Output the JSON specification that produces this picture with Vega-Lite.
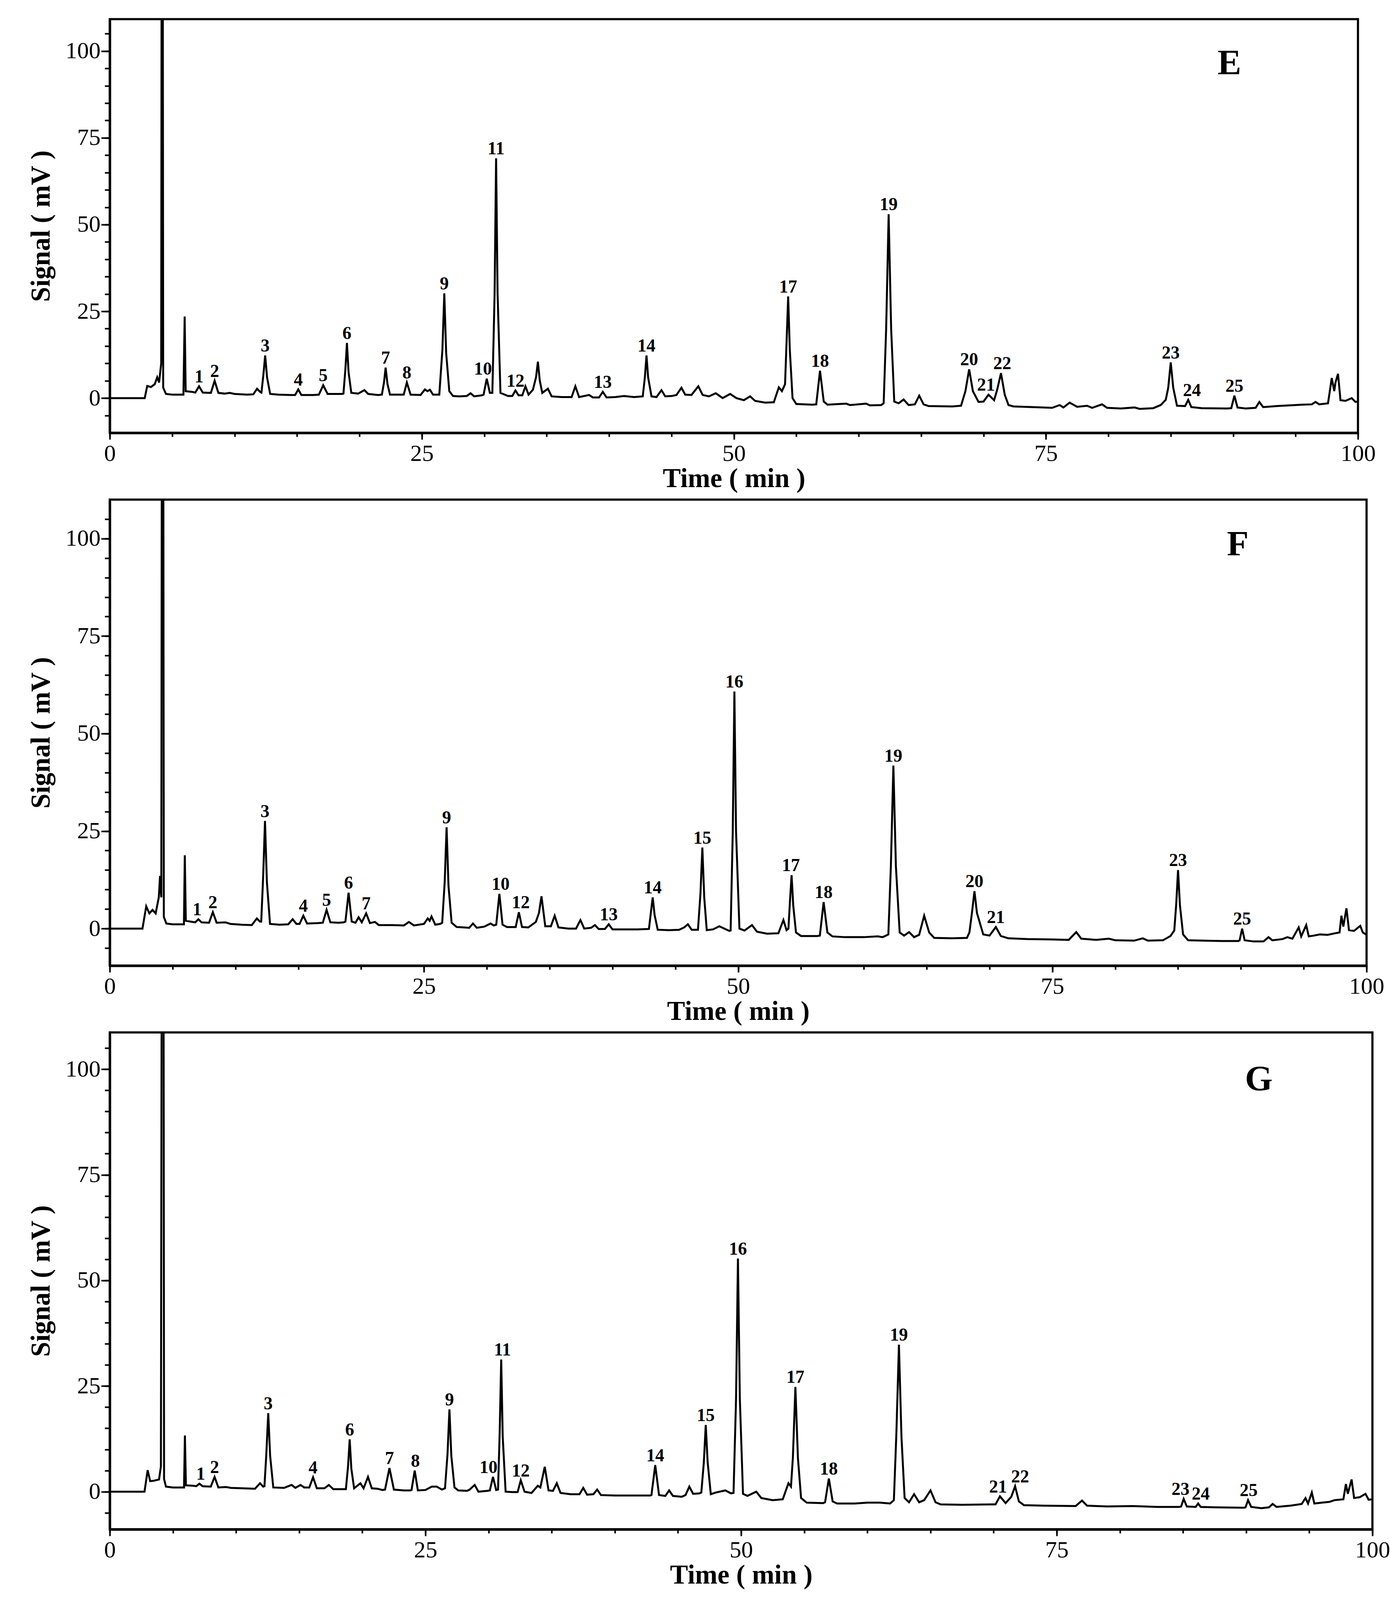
{
  "$schema": "https://vega.github.io/schema/vega-lite/v6.json",
  "padding": {"left": 68, "top": 46, "right": 16, "bottom": 16},
  "background": "white",
  "bounds": "flush",
  "spacing": 171,
  "config": {
    "view": {"stroke": "black", "strokeWidth": 5.5},
    "axis": {
      "grid": false,
      "labelFont": "Liberation Serif",
      "labelFontSize": 60,
      "labelColor": "black",
      "labelFlush": false,
      "labelOverlap": false,
      "titleFont": "Liberation Serif",
      "titleFontSize": 69,
      "titleFontWeight": "bold",
      "titleColor": "black",
      "tickColor": "black",
      "tickWidth": 4,
      "domainColor": "black"
    }
  },
  "datasets": {
    "E": [
      {"t":0,"s":0},{"t":2.8,"s":0},{"t":3.0,"s":3.5},{"t":3.3,"s":3.2},{"t":3.6,"s":4.0},{"t":3.8,"s":6.0},{"t":3.95,"s":4.5},{"t":4.12,"s":10},{"t":4.2,"s":300},{"t":4.28,"s":3},{"t":4.5,"s":1.2},{"t":5.0,"s":1.0},{"t":5.9,"s":1.0},{"t":6.0,"s":23.5},{"t":6.08,"s":2.0},{"t":6.6,"s":1.8},{"t":6.85,"s":1.6},{"t":7.15,"s":3.4},{"t":7.45,"s":1.6},{"t":8.1,"s":1.5},{"t":8.4,"s":5.0},{"t":8.7,"s":1.5},{"t":9.2,"s":1.3},{"t":9.6,"s":1.5},{"t":10.0,"s":1.2},{"t":11.0,"s":1.0},{"t":11.5,"s":1.1},{"t":11.8,"s":2.7},{"t":12.05,"s":1.8},{"t":12.15,"s":1.6},{"t":12.3,"s":6.5},{"t":12.45,"s":12.3},{"t":12.6,"s":6.0},{"t":12.85,"s":1.2},{"t":13.5,"s":1.0},{"t":14.5,"s":0.9},{"t":14.85,"s":0.9},{"t":15.1,"s":2.5},{"t":15.35,"s":0.9},{"t":16.3,"s":0.9},{"t":16.75,"s":1.0},{"t":17.1,"s":3.7},{"t":17.45,"s":1.2},{"t":18.6,"s":1.2},{"t":18.72,"s":1.3},{"t":18.87,"s":8.0},{"t":19.0,"s":15.9},{"t":19.13,"s":7.5},{"t":19.35,"s":1.5},{"t":19.9,"s":1.3},{"t":20.4,"s":2.3},{"t":20.7,"s":1.2},{"t":21.5,"s":0.9},{"t":21.8,"s":1.0},{"t":21.97,"s":4.5},{"t":22.1,"s":8.8},{"t":22.25,"s":4.0},{"t":22.45,"s":1.0},{"t":23.4,"s":1.0},{"t":23.55,"s":1.0},{"t":23.8,"s":4.5},{"t":24.1,"s":1.0},{"t":24.9,"s":0.9},{"t":25.25,"s":2.5},{"t":25.45,"s":2.0},{"t":25.65,"s":2.4},{"t":25.9,"s":1.0},{"t":26.4,"s":1.0},{"t":26.65,"s":14},{"t":26.8,"s":30.2},{"t":26.95,"s":13},{"t":27.2,"s":2.0},{"t":27.5,"s":0.6},{"t":28.0,"s":0.5},{"t":28.6,"s":0.6},{"t":28.9,"s":1.4},{"t":29.2,"s":0.5},{"t":29.8,"s":0.8},{"t":29.95,"s":1.0},{"t":30.2,"s":5.6},{"t":30.45,"s":1.5},{"t":30.65,"s":1.5},{"t":30.83,"s":30},{"t":30.95,"s":69.1},{"t":31.07,"s":30},{"t":31.3,"s":1.5},{"t":31.9,"s":0.6},{"t":32.25,"s":0.6},{"t":32.5,"s":2.2},{"t":32.75,"s":0.8},{"t":33.05,"s":0.8},{"t":33.3,"s":3.4},{"t":33.55,"s":1.0},{"t":33.9,"s":2.4},{"t":34.15,"s":6},{"t":34.3,"s":10.5},{"t":34.45,"s":5},{"t":34.65,"s":1.5},{"t":35.1,"s":2.7},{"t":35.4,"s":0.5},{"t":36.2,"s":0.3},{"t":37.0,"s":0.3},{"t":37.3,"s":3.4},{"t":37.6,"s":0.3},{"t":38.4,"s":0.9},{"t":38.7,"s":0.2},{"t":39.2,"s":0.2},{"t":39.5,"s":1.8},{"t":39.8,"s":0.2},{"t":40.5,"s":0.3},{"t":41.2,"s":0.6},{"t":42.0,"s":0.3},{"t":42.7,"s":0.5},{"t":42.87,"s":6},{"t":43.0,"s":12.3},{"t":43.13,"s":6},{"t":43.4,"s":0.5},{"t":43.8,"s":0.3},{"t":44.2,"s":2.3},{"t":44.5,"s":0.5},{"t":45.0,"s":0.6},{"t":45.4,"s":0.9},{"t":45.8,"s":3.0},{"t":46.1,"s":1.0},{"t":46.6,"s":0.9},{"t":47.15,"s":3.4},{"t":47.5,"s":0.9},{"t":48.0,"s":0.5},{"t":48.55,"s":1.4},{"t":49.1,"s":0.0},{"t":49.7,"s":1.2},{"t":50.2,"s":0.0},{"t":50.8,"s":-0.6},{"t":51.3,"s":0.5},{"t":51.7,"s":-0.8},{"t":52.5,"s":-1.3},{"t":53.2,"s":-1.2},{"t":53.6,"s":3.1},{"t":53.85,"s":2.0},{"t":54.1,"s":4.0},{"t":54.22,"s":16},{"t":54.35,"s":29.3},{"t":54.48,"s":14},{"t":54.7,"s":0.0},{"t":55.0,"s":-1.7},{"t":56.3,"s":-1.9},{"t":56.6,"s":-1.8},{"t":56.9,"s":7.9},{"t":57.2,"s":-1.0},{"t":57.5,"s":-1.9},{"t":59.0,"s":-1.6},{"t":59.3,"s":-2.0},{"t":60.6,"s":-1.6},{"t":60.9,"s":-2.1},{"t":61.8,"s":-2.0},{"t":62.0,"s":-1.5},{"t":62.2,"s":20},{"t":62.4,"s":53},{"t":62.6,"s":20},{"t":62.85,"s":-1.0},{"t":63.2,"s":-1.5},{"t":63.6,"s":-0.4},{"t":64.0,"s":-2.0},{"t":64.5,"s":-1.8},{"t":64.85,"s":0.7},{"t":65.2,"s":-1.8},{"t":65.6,"s":-2.3},{"t":67.5,"s":-2.4},{"t":68.2,"s":-2.2},{"t":68.55,"s":2.0},{"t":68.85,"s":8.3},{"t":69.15,"s":2.0},{"t":69.6,"s":-1.1},{"t":70.0,"s":-1.0},{"t":70.4,"s":1.0},{"t":70.85,"s":-0.6},{"t":71.1,"s":2.5},{"t":71.4,"s":7.2},{"t":71.7,"s":1.0},{"t":72.0,"s":-2.0},{"t":72.4,"s":-2.4},{"t":74.0,"s":-2.6},{"t":75.5,"s":-2.8},{"t":76.1,"s":-2.0},{"t":76.4,"s":-2.7},{"t":76.9,"s":-1.3},{"t":77.5,"s":-2.5},{"t":78.3,"s":-2.2},{"t":78.7,"s":-2.8},{"t":79.5,"s":-1.8},{"t":79.9,"s":-2.8},{"t":81.0,"s":-3.0},{"t":82.1,"s":-2.7},{"t":82.5,"s":-3.1},{"t":83.6,"s":-2.9},{"t":84.2,"s":-2.0},{"t":84.6,"s":-0.5},{"t":84.8,"s":3.0},{"t":85.0,"s":10.3},{"t":85.2,"s":3.0},{"t":85.5,"s":-2.2},{"t":86.15,"s":-2.3},{"t":86.4,"s":-0.5},{"t":86.65,"s":-2.6},{"t":87.5,"s":-2.9},{"t":89.5,"s":-3.0},{"t":89.85,"s":-2.9},{"t":90.1,"s":0.7},{"t":90.35,"s":-2.7},{"t":91.0,"s":-3.0},{"t":91.8,"s":-2.8},{"t":92.1,"s":-1.1},{"t":92.4,"s":-2.6},{"t":93.5,"s":-2.3},{"t":94.5,"s":-2.1},{"t":95.5,"s":-1.9},{"t":96.3,"s":-1.8},{"t":96.6,"s":-1.1},{"t":96.9,"s":-1.8},{"t":97.6,"s":-1.5},{"t":97.9,"s":5.8},{"t":98.1,"s":2.0},{"t":98.2,"s":4.5},{"t":98.4,"s":7.0},{"t":98.6,"s":-0.6},{"t":99.0,"s":-0.8},{"t":99.5,"s":0.0},{"t":99.8,"s":-1.1},{"t":100,"s":-1.0}
    ],
    "F": [
      {"t":0,"s":0},{"t":2.6,"s":0},{"t":2.9,"s":5.7},{"t":3.15,"s":3.9},{"t":3.4,"s":4.8},{"t":3.65,"s":3.9},{"t":3.9,"s":8},{"t":4.0,"s":13.5},{"t":4.1,"s":8},{"t":4.2,"s":300},{"t":4.3,"s":3},{"t":4.5,"s":1.3},{"t":5.0,"s":1.1},{"t":5.9,"s":1.1},{"t":5.97,"s":18.8},{"t":6.05,"s":2.0},{"t":6.6,"s":1.7},{"t":6.8,"s":1.6},{"t":7.05,"s":2.4},{"t":7.3,"s":1.6},{"t":7.9,"s":1.5},{"t":8.2,"s":4.2},{"t":8.5,"s":1.5},{"t":9.2,"s":1.6},{"t":9.6,"s":1.2},{"t":10.5,"s":1.0},{"t":11.3,"s":0.9},{"t":11.7,"s":2.6},{"t":11.95,"s":1.8},{"t":12.05,"s":1.8},{"t":12.2,"s":13},{"t":12.35,"s":27.6},{"t":12.5,"s":12},{"t":12.75,"s":1.2},{"t":13.5,"s":1.0},{"t":14.2,"s":1.1},{"t":14.55,"s":2.4},{"t":14.85,"s":1.2},{"t":15.1,"s":1.2},{"t":15.4,"s":3.3},{"t":15.7,"s":1.3},{"t":16.5,"s":1.4},{"t":16.95,"s":1.5},{"t":17.25,"s":4.8},{"t":17.55,"s":1.6},{"t":18.2,"s":1.5},{"t":18.6,"s":1.6},{"t":18.75,"s":1.8},{"t":19.0,"s":9.2},{"t":19.25,"s":1.8},{"t":19.55,"s":1.5},{"t":19.8,"s":2.9},{"t":20.05,"s":1.6},{"t":20.4,"s":3.9},{"t":20.7,"s":1.4},{"t":21.1,"s":1.7},{"t":21.4,"s":0.9},{"t":22.5,"s":0.9},{"t":23.4,"s":0.8},{"t":23.8,"s":1.7},{"t":24.2,"s":0.8},{"t":25.0,"s":1.2},{"t":25.3,"s":2.6},{"t":25.45,"s":2.0},{"t":25.6,"s":3.1},{"t":25.9,"s":1.0},{"t":26.3,"s":1.2},{"t":26.45,"s":1.5},{"t":26.65,"s":12},{"t":26.8,"s":26},{"t":26.95,"s":11},{"t":27.2,"s":1.5},{"t":27.6,"s":0.4},{"t":28.2,"s":0.3},{"t":28.6,"s":0.2},{"t":28.9,"s":1.3},{"t":29.2,"s":0.2},{"t":29.8,"s":0.5},{"t":30.3,"s":1.3},{"t":30.55,"s":0.8},{"t":30.75,"s":1.0},{"t":31.0,"s":8.9},{"t":31.25,"s":1.0},{"t":31.6,"s":0.4},{"t":32.3,"s":0.4},{"t":32.55,"s":4.2},{"t":32.8,"s":0.4},{"t":33.3,"s":0.3},{"t":33.9,"s":1.7},{"t":34.15,"s":4},{"t":34.35,"s":8.3},{"t":34.65,"s":0.6},{"t":35.1,"s":0.6},{"t":35.4,"s":3.3},{"t":35.7,"s":0.3},{"t":36.5,"s":0.0},{"t":37.1,"s":0.0},{"t":37.45,"s":2.2},{"t":37.75,"s":0.0},{"t":38.3,"s":0.2},{"t":38.6,"s":0.9},{"t":38.9,"s":-0.1},{"t":39.4,"s":-0.1},{"t":39.7,"s":1.1},{"t":40.0,"s":-0.2},{"t":41.0,"s":-0.2},{"t":42.0,"s":-0.2},{"t":42.9,"s":-0.1},{"t":43.05,"s":4},{"t":43.2,"s":8},{"t":43.35,"s":3.5},{"t":43.6,"s":-0.3},{"t":44.5,"s":-0.4},{"t":45.3,"s":-0.3},{"t":45.7,"s":0.3},{"t":46.0,"s":1.1},{"t":46.3,"s":-0.3},{"t":46.8,"s":-0.3},{"t":47.0,"s":9},{"t":47.15,"s":20.8},{"t":47.3,"s":8},{"t":47.5,"s":-0.4},{"t":48.0,"s":-0.2},{"t":48.5,"s":0.6},{"t":48.9,"s":0.0},{"t":49.3,"s":-0.6},{"t":49.4,"s":-0.5},{"t":49.57,"s":25},{"t":49.7,"s":60.8},{"t":49.83,"s":25},{"t":50.1,"s":0},{"t":50.5,"s":-0.5},{"t":51.1,"s":0.9},{"t":51.5,"s":-0.8},{"t":52.3,"s":-1.3},{"t":53.2,"s":-1.2},{"t":53.6,"s":2.2},{"t":53.85,"s":-0.4},{"t":54.0,"s":0},{"t":54.12,"s":7},{"t":54.25,"s":13.7},{"t":54.38,"s":6},{"t":54.6,"s":-1.0},{"t":55.0,"s":-1.9},{"t":56.3,"s":-1.9},{"t":56.5,"s":-1.8},{"t":56.8,"s":6.8},{"t":57.1,"s":-1.0},{"t":57.5,"s":-2.0},{"t":58.5,"s":-2.2},{"t":60.0,"s":-2.2},{"t":61.1,"s":-2.0},{"t":61.5,"s":-2.2},{"t":61.95,"s":-1.5},{"t":62.15,"s":16},{"t":62.35,"s":41.8},{"t":62.55,"s":16},{"t":62.85,"s":-1.0},{"t":63.2,"s":-1.8},{"t":63.6,"s":-0.9},{"t":64.0,"s":-2.2},{"t":64.4,"s":-1.6},{"t":64.8,"s":3.3},{"t":65.2,"s":-1.0},{"t":65.6,"s":-2.4},{"t":67.0,"s":-2.5},{"t":68.2,"s":-2.4},{"t":68.4,"s":-1.0},{"t":68.6,"s":4},{"t":68.8,"s":9.6},{"t":69.0,"s":4},{"t":69.5,"s":-1.5},{"t":70.0,"s":-1.8},{"t":70.5,"s":0.4},{"t":70.9,"s":-1.9},{"t":71.5,"s":-2.5},{"t":73.0,"s":-2.7},{"t":75.0,"s":-2.8},{"t":76.3,"s":-2.9},{"t":76.9,"s":-0.9},{"t":77.3,"s":-2.6},{"t":78.5,"s":-2.9},{"t":79.5,"s":-2.6},{"t":80.0,"s":-3.0},{"t":81.5,"s":-3.1},{"t":82.2,"s":-2.5},{"t":82.6,"s":-3.1},{"t":83.8,"s":-3.0},{"t":84.4,"s":-1.9},{"t":84.7,"s":-0.5},{"t":84.85,"s":6},{"t":85.0,"s":15},{"t":85.15,"s":6},{"t":85.4,"s":-1.5},{"t":85.8,"s":-3.0},{"t":87.0,"s":-3.1},{"t":88.5,"s":-3.2},{"t":89.8,"s":-3.2},{"t":89.9,"s":-3.0},{"t":90.1,"s":0.0},{"t":90.3,"s":-3.0},{"t":91.0,"s":-3.3},{"t":91.8,"s":-3.3},{"t":92.2,"s":-2.2},{"t":92.5,"s":-3.0},{"t":93.3,"s":-2.7},{"t":93.7,"s":-2.2},{"t":94.1,"s":-2.6},{"t":94.6,"s":0.3},{"t":94.8,"s":-2.0},{"t":95.2,"s":0.9},{"t":95.4,"s":-2.0},{"t":95.8,"s":-1.8},{"t":96.3,"s":-1.5},{"t":96.9,"s":-1.6},{"t":97.5,"s":-1.2},{"t":97.85,"s":-1.0},{"t":98.0,"s":3.3},{"t":98.15,"s":0.5},{"t":98.4,"s":5.2},{"t":98.6,"s":-0.4},{"t":99.0,"s":-0.6},{"t":99.5,"s":0.7},{"t":99.7,"s":-1.0},{"t":100,"s":-1.6}
    ],
    "G": [
      {"t":0,"s":0},{"t":2.75,"s":0},{"t":3.0,"s":5.1},{"t":3.2,"s":2.5},{"t":3.5,"s":2.6},{"t":3.9,"s":2.9},{"t":4.05,"s":6},{"t":4.2,"s":300},{"t":4.3,"s":3},{"t":4.45,"s":1.2},{"t":5.0,"s":1.0},{"t":5.88,"s":1.0},{"t":5.95,"s":13.3},{"t":6.03,"s":1.5},{"t":6.6,"s":1.4},{"t":6.85,"s":1.3},{"t":7.1,"s":1.9},{"t":7.35,"s":1.3},{"t":8.0,"s":1.2},{"t":8.3,"s":3.5},{"t":8.6,"s":1.0},{"t":9.2,"s":1.1},{"t":9.6,"s":0.9},{"t":10.5,"s":0.8},{"t":11.5,"s":0.7},{"t":11.9,"s":2.0},{"t":12.15,"s":1.2},{"t":12.25,"s":1.3},{"t":12.4,"s":9},{"t":12.55,"s":18.6},{"t":12.7,"s":8.5},{"t":12.95,"s":1.0},{"t":13.8,"s":0.9},{"t":14.4,"s":1.6},{"t":14.7,"s":0.9},{"t":15.1,"s":1.6},{"t":15.4,"s":1.0},{"t":15.8,"s":1.0},{"t":16.1,"s":3.4},{"t":16.4,"s":0.8},{"t":17.0,"s":0.8},{"t":17.35,"s":1.6},{"t":17.7,"s":0.6},{"t":18.4,"s":0.6},{"t":18.7,"s":0.6},{"t":18.87,"s":6},{"t":19.0,"s":12.4},{"t":19.13,"s":5.5},{"t":19.35,"s":0.8},{"t":19.85,"s":2.0},{"t":20.1,"s":0.8},{"t":20.45,"s":3.5},{"t":20.75,"s":0.8},{"t":21.2,"s":0.7},{"t":21.6,"s":0.4},{"t":21.8,"s":0.5},{"t":22.15,"s":5.6},{"t":22.5,"s":0.5},{"t":23.3,"s":0.3},{"t":23.8,"s":0.3},{"t":23.9,"s":0.4},{"t":24.15,"s":5.0},{"t":24.4,"s":0.3},{"t":25.0,"s":0.4},{"t":25.5,"s":1.2},{"t":25.9,"s":1.2},{"t":26.3,"s":0.5},{"t":26.55,"s":0.8},{"t":26.75,"s":9},{"t":26.9,"s":19.5},{"t":27.05,"s":8.5},{"t":27.3,"s":1.0},{"t":27.6,"s":0.3},{"t":28.3,"s":0.2},{"t":28.5,"s":0.5},{"t":28.9,"s":1.6},{"t":29.2,"s":0.0},{"t":29.9,"s":0.2},{"t":30.1,"s":0.3},{"t":30.35,"s":3.5},{"t":30.6,"s":0.4},{"t":30.75,"s":0.5},{"t":30.88,"s":14},{"t":31.0,"s":31.3},{"t":31.12,"s":13},{"t":31.35,"s":0.0},{"t":31.9,"s":-0.1},{"t":32.3,"s":-0.1},{"t":32.55,"s":2.7},{"t":32.85,"s":0.0},{"t":33.4,"s":-0.3},{"t":33.9,"s":1.4},{"t":34.1,"s":1.0},{"t":34.45,"s":5.9},{"t":34.75,"s":0.3},{"t":35.1,"s":0.2},{"t":35.4,"s":2.0},{"t":35.7,"s":-0.3},{"t":36.5,"s":-0.6},{"t":37.2,"s":-0.6},{"t":37.5,"s":0.9},{"t":37.8,"s":-0.7},{"t":38.3,"s":-0.6},{"t":38.6,"s":0.5},{"t":38.9,"s":-0.8},{"t":40.0,"s":-0.9},{"t":41.5,"s":-0.9},{"t":42.8,"s":-0.9},{"t":42.9,"s":-0.8},{"t":43.2,"s":6.3},{"t":43.5,"s":-0.8},{"t":44.0,"s":-1.0},{"t":44.3,"s":0.3},{"t":44.6,"s":-1.0},{"t":45.3,"s":-1.2},{"t":45.6,"s":-0.8},{"t":45.9,"s":1.2},{"t":46.2,"s":-0.5},{"t":46.7,"s":-0.4},{"t":46.85,"s":-0.2},{"t":47.05,"s":7},{"t":47.2,"s":15.8},{"t":47.35,"s":7},{"t":47.6,"s":-0.6},{"t":48.0,"s":-0.2},{"t":48.75,"s":0.3},{"t":49.2,"s":-0.4},{"t":49.4,"s":-0.3},{"t":49.6,"s":22},{"t":49.75,"s":55.2},{"t":49.9,"s":22},{"t":50.15,"s":-0.5},{"t":50.5,"s":-1.0},{"t":51.2,"s":0.0},{"t":51.6,"s":-1.5},{"t":52.5,"s":-2.0},{"t":53.3,"s":-1.8},{"t":53.75,"s":2.0},{"t":53.95,"s":1.2},{"t":54.1,"s":8},{"t":54.3,"s":24.8},{"t":54.5,"s":8},{"t":54.75,"s":-1.5},{"t":55.2,"s":-2.6},{"t":56.5,"s":-2.7},{"t":56.65,"s":-2.5},{"t":56.95,"s":3.1},{"t":57.25,"s":-2.3},{"t":57.6,"s":-2.8},{"t":59.0,"s":-2.8},{"t":60.0,"s":-2.6},{"t":61.0,"s":-2.6},{"t":61.8,"s":-2.8},{"t":62.1,"s":-2.0},{"t":62.3,"s":14},{"t":62.5,"s":34.8},{"t":62.7,"s":13},{"t":62.95,"s":-1.5},{"t":63.3,"s":-2.5},{"t":63.7,"s":-0.6},{"t":64.1,"s":-2.5},{"t":64.5,"s":-2.0},{"t":65.0,"s":0.3},{"t":65.4,"s":-2.5},{"t":65.8,"s":-3.0},{"t":67.5,"s":-3.1},{"t":69.8,"s":-3.0},{"t":70.15,"s":-3.0},{"t":70.5,"s":-1.1},{"t":70.95,"s":-2.7},{"t":71.4,"s":-1.2},{"t":71.7,"s":1.3},{"t":72.0,"s":-2.3},{"t":72.4,"s":-3.2},{"t":74.0,"s":-3.3},{"t":76.5,"s":-3.4},{"t":77.0,"s":-2.1},{"t":77.4,"s":-3.3},{"t":79.0,"s":-3.5},{"t":81.0,"s":-3.4},{"t":83.0,"s":-3.6},{"t":84.7,"s":-3.6},{"t":84.85,"s":-3.5},{"t":85.05,"s":-1.7},{"t":85.3,"s":-3.5},{"t":86.0,"s":-3.6},{"t":86.2,"s":-2.8},{"t":86.4,"s":-3.6},{"t":87.5,"s":-3.7},{"t":89.8,"s":-3.8},{"t":89.95,"s":-3.7},{"t":90.15,"s":-2.0},{"t":90.4,"s":-3.6},{"t":91.2,"s":-3.9},{"t":91.8,"s":-3.7},{"t":92.1,"s":-2.9},{"t":92.4,"s":-3.6},{"t":93.5,"s":-3.3},{"t":94.4,"s":-2.9},{"t":94.7,"s":-1.5},{"t":94.9,"s":-2.8},{"t":95.2,"s":-0.2},{"t":95.4,"s":-2.8},{"t":96.0,"s":-2.6},{"t":96.6,"s":-2.4},{"t":97.0,"s":-2.0},{"t":97.7,"s":-1.8},{"t":97.9,"s":1.8},{"t":98.05,"s":-0.5},{"t":98.35,"s":2.9},{"t":98.55,"s":-1.5},{"t":99.0,"s":-1.3},{"t":99.45,"s":-0.5},{"t":99.7,"s":-1.9},{"t":100,"s":-1.8}
    ],
    "labE": [
      {"n":"1","t":7.15,"s":3.4},{"n":"2","t":8.4,"s":5.0},{"n":"3","t":12.45,"s":12.3},{"n":"4","t":15.1,"s":2.5},{"n":"5","t":17.1,"s":3.7},{"n":"6","t":19.0,"s":15.9},{"n":"7","t":22.1,"s":8.8},{"n":"8","t":23.8,"s":4.5},{"n":"9","t":26.8,"s":30.2},{"n":"10","t":29.9,"s":5.6},{"n":"11","t":30.95,"s":69.1},{"n":"12","t":32.5,"s":2.2},{"n":"13","t":39.5,"s":1.8},{"n":"14","t":43.0,"s":12.3},{"n":"17","t":54.35,"s":29.3},{"n":"18","t":56.9,"s":7.9},{"n":"19","t":62.4,"s":53},{"n":"20","t":68.85,"s":8.3},{"n":"21","t":70.2,"s":1.0},{"n":"22","t":71.5,"s":7.2},{"n":"23","t":85.0,"s":10.3},{"n":"24","t":86.7,"s":-0.5},{"n":"25","t":90.1,"s":0.7}
    ],
    "labF": [
      {"n":"1","t":6.95,"s":2.4},{"n":"2","t":8.2,"s":4.2},{"n":"3","t":12.35,"s":27.6},{"n":"4","t":15.4,"s":3.3},{"n":"5","t":17.25,"s":4.8},{"n":"6","t":19.0,"s":9.2},{"n":"7","t":20.4,"s":3.9},{"n":"9","t":26.8,"s":26},{"n":"10","t":31.1,"s":8.9},{"n":"12","t":32.7,"s":4.2},{"n":"13","t":39.7,"s":1.1},{"n":"14","t":43.2,"s":8},{"n":"15","t":47.15,"s":20.8},{"n":"16","t":49.7,"s":60.8},{"n":"17","t":54.2,"s":13.7},{"n":"18","t":56.8,"s":6.8},{"n":"19","t":62.35,"s":41.8},{"n":"20","t":68.8,"s":9.6},{"n":"21","t":70.5,"s":0.4},{"n":"23","t":85.0,"s":15},{"n":"25","t":90.1,"s":0}
    ],
    "labG": [
      {"n":"1","t":7.2,"s":1.9},{"n":"2","t":8.3,"s":3.5},{"n":"3","t":12.55,"s":18.6},{"n":"4","t":16.1,"s":3.4},{"n":"6","t":19.0,"s":12.4},{"n":"7","t":22.15,"s":5.6},{"n":"8","t":24.2,"s":5.0},{"n":"9","t":26.9,"s":19.5},{"n":"10","t":30.0,"s":3.5},{"n":"11","t":31.1,"s":31.3},{"n":"12","t":32.55,"s":2.7},{"n":"14","t":43.2,"s":6.3},{"n":"15","t":47.2,"s":15.8},{"n":"16","t":49.75,"s":55.2},{"n":"17","t":54.3,"s":24.8},{"n":"18","t":56.95,"s":3.1},{"n":"19","t":62.5,"s":34.8},{"n":"21","t":70.35,"s":-1.1},{"n":"22","t":72.1,"s":1.3},{"n":"23","t":84.8,"s":-1.7},{"n":"24","t":86.4,"s":-2.8},{"n":"25","t":90.2,"s":-2.0}
    ]
  },
  "vconcat": [
    {
      "width": 3195,
      "height": 1059,
      "layer": [
        {
          "data": {"name": "E"},
          "mark": {"type": "line", "clip": true, "color": "black", "strokeWidth": 5},
          "encoding": {
            "x": {"field": "t", "type": "quantitative", "scale": {"domain": [0, 100], "nice": false, "zero": false},
                  "axis": {"orient": "bottom", "values": [0, 25, 50, 75, 100], "tickSize": 17, "labelPadding": 7, "title": "Time ( min )", "titlePadding": 0, "domainWidth": 6.5}},
            "y": {"field": "s", "type": "quantitative", "scale": {"domain": [-10, 109.2], "nice": false, "zero": false},
                  "axis": {"orient": "left", "values": [0, 25, 50, 75, 100], "tickSize": 22, "labelPadding": 2, "title": "Signal ( mV )", "titlePadding": 27, "domainWidth": 6}}
          }
        },
        {
          "data": {"name": "labE"},
          "mark": {"type": "text", "font": "Liberation Serif", "fontWeight": "bold", "fontSize": 46, "dy": -10, "baseline": "alphabetic", "color": "black"},
          "encoding": {
            "x": {"field": "t", "type": "quantitative", "axis": {"orient": "bottom", "values": [0,5,10,15,20,25,30,35,40,45,50,55,60,65,70,75,80,85,90,95,100], "tickSize": 10, "labels": false, "title": null, "domain": false}},
            "y": {"field": "s", "type": "quantitative", "axis": {"orient": "left", "values": [-5,0,5,10,15,20,25,30,35,40,45,50,55,60,65,70,75,80,85,90,95,100,105], "tickSize": 13, "labels": false, "title": null, "domain": false}},
            "text": {"field": "n"}
          }
        },
        {
          "data": {"values": [{"t": 89.7, "s": 96.4, "k": "E"}]},
          "mark": {"type": "text", "font": "Liberation Serif", "fontWeight": "bold", "fontSize": 91, "baseline": "middle", "color": "black"},
          "encoding": {
            "x": {"field": "t", "type": "quantitative", "axis": null},
            "y": {"field": "s", "type": "quantitative", "axis": null},
            "text": {"field": "k"}
          }
        }
      ],
      "resolve": {"axis": {"x": "independent", "y": "independent"}}
    },
    {
      "width": 3217,
      "height": 1193,
      "layer": [
        {
          "data": {"name": "F"},
          "mark": {"type": "line", "clip": true, "color": "black", "strokeWidth": 5},
          "encoding": {
            "x": {"field": "t", "type": "quantitative", "scale": {"domain": [0, 100], "nice": false, "zero": false},
                  "axis": {"orient": "bottom", "values": [0, 25, 50, 75, 100], "tickSize": 17, "labelPadding": 7, "title": "Time ( min )", "titlePadding": 0, "domainWidth": 6.5}},
            "y": {"field": "s", "type": "quantitative", "scale": {"domain": [-9.5, 110], "nice": false, "zero": false},
                  "axis": {"orient": "left", "values": [0, 25, 50, 75, 100], "tickSize": 22, "labelPadding": 2, "title": "Signal ( mV )", "titlePadding": 27, "domainWidth": 6}}
          }
        },
        {
          "data": {"name": "labF"},
          "mark": {"type": "text", "font": "Liberation Serif", "fontWeight": "bold", "fontSize": 46, "dy": -10, "baseline": "alphabetic", "color": "black"},
          "encoding": {
            "x": {"field": "t", "type": "quantitative", "axis": {"orient": "bottom", "values": [0,5,10,15,20,25,30,35,40,45,50,55,60,65,70,75,80,85,90,95,100], "tickSize": 10, "labels": false, "title": null, "domain": false}},
            "y": {"field": "s", "type": "quantitative", "axis": {"orient": "left", "values": [-5,0,5,10,15,20,25,30,35,40,45,50,55,60,65,70,75,80,85,90,95,100,105], "tickSize": 13, "labels": false, "title": null, "domain": false}},
            "text": {"field": "n"}
          }
        },
        {
          "data": {"values": [{"t": 89.75, "s": 98.4, "k": "F"}]},
          "mark": {"type": "text", "font": "Liberation Serif", "fontWeight": "bold", "fontSize": 91, "baseline": "middle", "color": "black"},
          "encoding": {
            "x": {"field": "t", "type": "quantitative", "axis": null},
            "y": {"field": "s", "type": "quantitative", "axis": null},
            "text": {"field": "k"}
          }
        }
      ],
      "resolve": {"axis": {"x": "independent", "y": "independent"}}
    },
    {
      "width": 3232,
      "height": 1272,
      "layer": [
        {
          "data": {"name": "G"},
          "mark": {"type": "line", "clip": true, "color": "black", "strokeWidth": 5},
          "encoding": {
            "x": {"field": "t", "type": "quantitative", "scale": {"domain": [0, 100], "nice": false, "zero": false},
                  "axis": {"orient": "bottom", "values": [0, 25, 50, 75, 100], "tickSize": 17, "labelPadding": 7, "title": "Time ( min )", "titlePadding": 0, "domainWidth": 6.5}},
            "y": {"field": "s", "type": "quantitative", "scale": {"domain": [-8.9, 108.7], "nice": false, "zero": false},
                  "axis": {"orient": "left", "values": [0, 25, 50, 75, 100], "tickSize": 22, "labelPadding": 2, "title": "Signal ( mV )", "titlePadding": 27, "domainWidth": 6}}
          }
        },
        {
          "data": {"name": "labG"},
          "mark": {"type": "text", "font": "Liberation Serif", "fontWeight": "bold", "fontSize": 46, "dy": -10, "baseline": "alphabetic", "color": "black"},
          "encoding": {
            "x": {"field": "t", "type": "quantitative", "axis": {"orient": "bottom", "values": [0,5,10,15,20,25,30,35,40,45,50,55,60,65,70,75,80,85,90,95,100], "tickSize": 10, "labels": false, "title": null, "domain": false}},
            "y": {"field": "s", "type": "quantitative", "axis": {"orient": "left", "values": [-5,0,5,10,15,20,25,30,35,40,45,50,55,60,65,70,75,80,85,90,95,100,105], "tickSize": 13, "labels": false, "title": null, "domain": false}},
            "text": {"field": "n"}
          }
        },
        {
          "data": {"values": [{"t": 91.0, "s": 97.5, "k": "G"}]},
          "mark": {"type": "text", "font": "Liberation Serif", "fontWeight": "bold", "fontSize": 91, "baseline": "middle", "color": "black"},
          "encoding": {
            "x": {"field": "t", "type": "quantitative", "axis": null},
            "y": {"field": "s", "type": "quantitative", "axis": null},
            "text": {"field": "k"}
          }
        }
      ],
      "resolve": {"axis": {"x": "independent", "y": "independent"}}
    }
  ]
}
